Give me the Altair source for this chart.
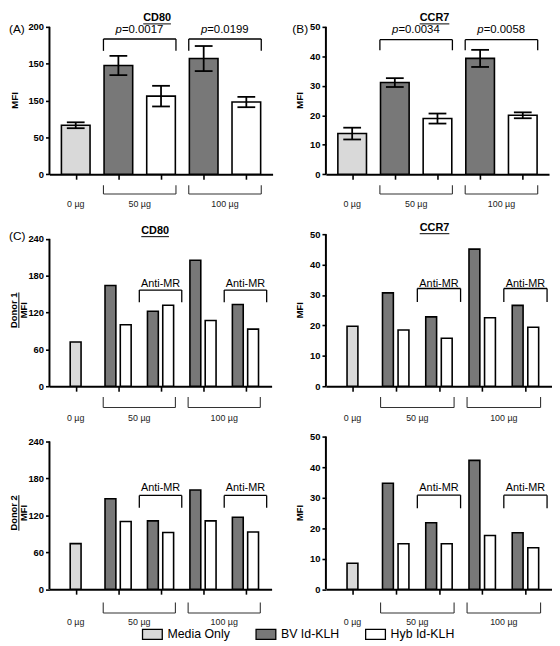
import altair as alt
import pandas as pd

FONT = "Liberation Sans"

# ---------------- data ----------------
top_groups = ["Media Only", "BV Id-KLH", "Hyb Id-KLH", "BV Id-KLH", "Hyb Id-KLH"]
top_doses = ["0 µg", "50 µg", "50 µg", "100 µg", "100 µg"]
cd80_mean = [66.5, 147.5, 106, 157, 98]
cd80_sem = [4, 13, 14, 17, 7]
ccr7_mean = [13.8, 31.1, 18.9, 39.3, 20.0]
ccr7_sem = [2.0, 1.5, 1.7, 2.9, 1.0]
p_cd80 = ["=0.0017", "=0.0199"]
p_ccr7 = ["=0.0034", "=0.0058"]

donor_groups = ["Media Only", "BV Id-KLH", "Hyb Id-KLH", "BV Id-KLH", "Hyb Id-KLH",
                "BV Id-KLH", "Hyb Id-KLH", "BV Id-KLH", "Hyb Id-KLH"]
donor_doses = ["0 µg", "50 µg", "50 µg", "50 µg", "50 µg", "100 µg", "100 µg", "100 µg", "100 µg"]
donor_anti_mr = [False, False, False, True, True, False, False, True, True]
d1_cd80 = [72, 164, 100, 122, 132, 205, 107, 133, 93]
d1_ccr7 = [19.7, 30.7, 18.5, 22.8, 15.8, 45.1, 22.5, 26.6, 19.4]
d2_cd80 = [74, 147, 110, 111, 92, 161, 111, 117, 93]
d2_ccr7 = [8.5, 34.7, 14.9, 21.8, 14.9, 42.2, 17.6, 18.5, 13.6]

dose_names = ["0 µg", "50 µg", "100 µg"]
legend_order = ["Media Only", "BV Id-KLH", "Hyb Id-KLH"]
legend_colors = ["#d9d9d9", "#787878", "#ffffff"]

# ---------------- layout helpers ----------------
def top_slots(groups):
    return [i + 0.5 for i in range(len(groups))]


def donor_slots(groups, doses, anti):
    out = []
    for g, d, a in zip(groups, doses, anti):
        if g == "Media Only":
            out.append(0.5)
            continue
        k = (2 if d == "100 µg" else 0) + (1 if a else 0)
        out.append(1.5 + k + (-0.18 if g == "BV Id-KLH" else 0.18))
    return out


fill_scale = alt.Scale(domain=legend_order, range=legend_colors)


def one(**kw):
    return pd.DataFrame({k: [v] for k, v in kw.items()})


def panel(spec, legend_y):
    W, H = spec["W"], spec["H"]
    legend = alt.Legend(
        title=None, orient="none", legendX=98, legendY=legend_y, direction="horizontal",
        symbolType="M-2,-1H2V1H-2Z", symbolSize=100, symbolStrokeColor="black",
        symbolStrokeWidth=1.3, labelFont=FONT, labelFontSize=12.5, labelColor="black",
        columnPadding=23, labelOffset=9, labelLimit=300, gridAlign="each",
    )
    df = pd.DataFrame({"group": spec["groups"], "dose": spec["doses"],
                       "value": spec["values"], "slot": spec["slots"]})
    xscale = alt.Scale(domain=[0, 5], nice=False, zero=False)
    yscale = alt.Scale(domain=[0, spec["ydom"]], nice=False, zero=True)
    xaxis = alt.Axis(values=spec["xticks"], labels=False, ticks=True, tickSize=5,
                     tickWidth=1.6, tickColor="black", domain=True, domainWidth=2,
                     domainColor="black", grid=False, title=None)
    ykw = dict(values=spec["yvals"], domain=False, grid=False, title=None,
               labelFont=FONT, labelFontWeight="bold", labelFontSize=9.5,
               labelColor="black", tickSize=4, tickWidth=1.6, tickColor="black",
               labelPadding=2, labelOverlap=False)
    if spec.get("labelExpr"):
        ykw["labelExpr"] = spec["labelExpr"]
    yaxis = alt.Axis(**ykw)

    def X(field):
        return alt.X(field, scale=xscale, axis=xaxis)

    def Y(field):
        return alt.Y(field, scale=yscale, axis=yaxis)

    layers = []
    if spec.get("anchor"):
        T, B = spec["anchor"]
        layers.append(alt.Chart(one(a=0)).mark_rule(color="white", strokeWidth=0.5).encode(
            x=alt.value(-41), x2=alt.value(-41), y=alt.value(-T), y2=alt.value(H + B)))

    bars = alt.Chart(df).mark_bar(orient="vertical", size=spec["barsize"], stroke="black",
                                  strokeWidth=1.6).encode(
        x=X("slot:Q"),
        y=Y("value:Q"),
        fill=alt.Fill("group:N", scale=fill_scale, legend=legend),
    )
    layers.append(bars)

    # y axis line
    layers.append(alt.Chart(one(y0=0, y1=spec["ytop"])).mark_rule(color="black", strokeWidth=2).encode(
        x=alt.value(0), y=Y("y0:Q"), y2="y1:Q"))

    # error bars
    if spec.get("sem") is not None:
        edf = df.assign(lo=[v - e for v, e in zip(spec["values"], spec["sem"])],
                        hi=[v + e for v, e in zip(spec["values"], spec["sem"])])
        eb = alt.Chart(edf)
        layers.append(eb.mark_rule(color="black", strokeWidth=1.8).encode(
            x=X("slot:Q"), y=Y("lo:Q"), y2="hi:Q"))
        for col in ["lo", "hi"]:
            layers.append(eb.mark_tick(orient="horizontal", color="black", size=18,
                                       thickness=1.8, opacity=1).encode(
                x=X("slot:Q"), y=Y(f"{col}:Q")))

    # dose groups below the axis
    centers = df.groupby("dose", sort=False)["slot"].mean()
    ddf = pd.DataFrame({"dose": dose_names, "xc": [centers[d] for d in dose_names]})
    bdf = ddf[ddf["dose"] != "0 µg"].assign(b1=lambda d: d["xc"] - 0.85, b2=lambda d: d["xc"] + 0.85)
    v1, v2, lab = spec["below"]
    bc = alt.Chart(bdf)
    layers.append(bc.mark_rule(color="#333333", strokeWidth=1.1).encode(
        x=X("b1:Q"), x2="b2:Q", y=alt.value(H + v2)))
    for col in ["b1", "b2"]:
        layers.append(bc.mark_rule(color="#333333", strokeWidth=1.1).encode(
            x=X(f"{col}:Q"), y=alt.value(H + v1), y2=alt.value(H + v2)))
    layers.append(alt.Chart(ddf).mark_text(font=FONT, fontSize=9, color="#222222").encode(
        x=X("xc:Q"), y=alt.value(H + lab), text="dose:N"))

    # p-value brackets (top row)
    if spec.get("pvals"):
        ph, pe, pt = spec["pbr"]
        pdf = bdf.assign(p=spec["pvals"])
        pc = alt.Chart(pdf)
        layers.append(pc.mark_rule(color="black", strokeWidth=1.3).encode(
            x=X("b1:Q"), x2="b2:Q", y=alt.value(ph)))
        for col in ["b1", "b2"]:
            layers.append(pc.mark_rule(color="black", strokeWidth=1.3).encode(
                x=X(f"{col}:Q"), y=alt.value(ph), y2=alt.value(pe)))
        layers.append(pc.mark_text(font=FONT, fontSize=11.5, fontStyle="italic", align="right",
                                   dx=-18, color="black").encode(
            x=X("xc:Q"), y=alt.value(pt), text=alt.value("p")))
        layers.append(pc.mark_text(font=FONT, fontSize=11.5, align="left", dx=-18,
                                   color="black").encode(
            x=X("xc:Q"), y=alt.value(pt), text="p:N"))

    # Anti-MR brackets (donor rows)
    if spec.get("anti"):
        ah, ae, at = spec["anti"]
        adf = df[pd.Series(spec["anti_flags"])].groupby("dose", sort=False)["slot"].mean().reset_index()
        adf = adf.assign(a1=adf["slot"] - 0.5, a2=adf["slot"] + 0.5, t="Anti-MR")
        ac = alt.Chart(adf)
        layers.append(ac.mark_rule(color="black", strokeWidth=1.3).encode(
            x=X("a1:Q"), x2="a2:Q", y=alt.value(ah)))
        for col in ["a1", "a2"]:
            layers.append(ac.mark_rule(color="black", strokeWidth=1.3).encode(
                x=X(f"{col}:Q"), y=alt.value(ah), y2=alt.value(ae)))
        layers.append(ac.mark_text(font=FONT, fontSize=11, color="black").encode(
            x=X("slot:Q"), y=alt.value(at), text="t:N"))

    # title with underline
    if spec.get("title"):
        tx, ty, tw = spec["title_pos"]
        layers.append(alt.Chart(one(t=spec["title"])).mark_text(
            font=FONT, fontSize=11, fontWeight="bold", color="black").encode(
            x=alt.value(tx), y=alt.value(ty), text="t:N"))
        layers.append(alt.Chart(one(a=0)).mark_rule(color="black", strokeWidth=1).encode(
            x=alt.value(tx - tw), x2=alt.value(tx + tw), y=alt.value(ty + 5.5)))

    # y title
    mx, mfs = spec["mfi"]
    layers.append(alt.Chart(one(t="MFI")).mark_text(
        font=FONT, fontSize=mfs, fontWeight="bold", angle=270, color="black").encode(
        x=alt.value(mx), y=alt.value(H / 2), text="t:N"))

    # donor label
    if spec.get("donor"):
        layers.append(alt.Chart(one(t=spec["donor"])).mark_text(
            font=FONT, fontSize=9.5, fontWeight="bold", angle=270, color="black").encode(
            x=alt.value(-36.3), y=alt.value(H / 2), text="t:N"))
        layers.append(alt.Chart(one(a=0)).mark_rule(color="black", strokeWidth=1).encode(
            x=alt.value(-31), y=alt.value(H / 2 - 18), y2=alt.value(H / 2 + 18)))

    # panel letter
    if spec.get("letter"):
        lx, ly = spec["letter_pos"]
        layers.append(alt.Chart(one(t=spec["letter"])).mark_text(
            font=FONT, fontSize=12, align="left", color="black").encode(
            x=alt.value(lx), y=alt.value(ly), text="t:N"))

    return alt.layer(*layers).properties(width=W, height=H)


H1 = 149.3
H2 = 154.0
H3 = 154.6
T1 = 13.5
LEG_Y = 611 - (15.5 - T1)

ts = top_slots(top_groups)
ds = donor_slots(donor_groups, donor_doses, donor_anti_mr)

specs = [
    dict(W=226, H=H1, groups=top_groups, doses=top_doses, values=cd80_mean, sem=cd80_sem,
         slots=ts, xticks=ts, ydom=200, ytop=200, yvals=[0, 50, 100, 150, 200],
         labelExpr="datum.value == 100 ? '150' : datum.label",
         barsize=29, anchor=(T1, 36), below=(11, 20, 30), pvals=p_cd80, pbr=(12.3, 24.3, 3.6),
         title="CD80", title_pos=(109, -8.5, 14), mfi=(-35, 10), letter="(A)", letter_pos=(-41, 2)),
    dict(W=226, H=H1, groups=top_groups, doses=top_doses, values=ccr7_mean, sem=ccr7_sem,
         slots=ts, xticks=ts, ydom=50, ytop=50, yvals=[0, 10, 20, 30, 40, 50],
         barsize=29, below=(11, 20, 30), pvals=p_ccr7, pbr=(13, 23.7, 3.7),
         title="CCR7", title_pos=(110, -8.5, 15), mfi=(-26, 10), letter="(B)", letter_pos=(-34, 2)),
]
dticks = [0.5, 1.5, 2.5, 3.5, 4.5]
specs += [
    dict(W=225, H=H2, groups=donor_groups, doses=donor_doses, values=d1_cd80, slots=ds,
         xticks=dticks, ydom=240 * H2 / 149.3, ytop=240, yvals=[0, 60, 120, 180, 240],
         barsize=11, anchor=(15.4 + (15.5 - T1), 38), below=(11, 21.5, 32.3),
         anti=(56.6, 69, 50), anti_flags=donor_anti_mr,
         title="CD80", title_pos=(107, -3, 14), mfi=(-25.5, 9.5), donor="Donor 1",
         letter="(C)", letter_pos=(-41, 2.3)),
    dict(W=229, H=H2, groups=donor_groups, doses=donor_doses, values=d1_ccr7, slots=ds,
         xticks=dticks, ydom=50, ytop=50, yvals=[0, 10, 20, 30, 40, 50],
         barsize=11, below=(11, 21.5, 32.3), anti=(55, 68.6, 50), anti_flags=donor_anti_mr,
         title="CCR7", title_pos=(110, -6, 15), mfi=(-26, 9.5)),
    dict(W=225, H=H3, groups=donor_groups, doses=donor_doses, values=d2_cd80, slots=ds,
         xticks=dticks, ydom=240 * H3 / 149.7, ytop=240, yvals=[0, 60, 120, 180, 240],
         barsize=11, anchor=(5, 36), below=(13.5, 24, 33.5),
         anti=(59.6, 72, 52), anti_flags=donor_anti_mr,
         mfi=(-25.5, 9.5), donor="Donor 2"),
    dict(W=229, H=H3, groups=donor_groups, doses=donor_doses, values=d2_ccr7, slots=ds,
         xticks=dticks, ydom=50, ytop=50, yvals=[0, 10, 20, 30, 40, 50],
         barsize=11, below=(13.5, 24, 33.5), anti=(59.3, 72.6, 52.6), anti_flags=donor_anti_mr,
         mfi=(-26, 9.5)),
]
A, B, C1, C1b, C2, C2b = [panel(s, LEG_Y) for s in specs]

row1 = alt.hconcat(A, B, spacing=54, bounds="flush")
row2 = alt.hconcat(C1, C1b, spacing=55, bounds="flush")
row3 = alt.hconcat(C2, C2b, spacing=55, bounds="flush")

chart = alt.vconcat(row1, row2, row3, spacing=6).properties(
    padding=0, background="white"
).configure_view(stroke=None).configure_concat(spacing=6)

chart.save("out.html", embed_options={"renderer": "svg", "actions": False})
